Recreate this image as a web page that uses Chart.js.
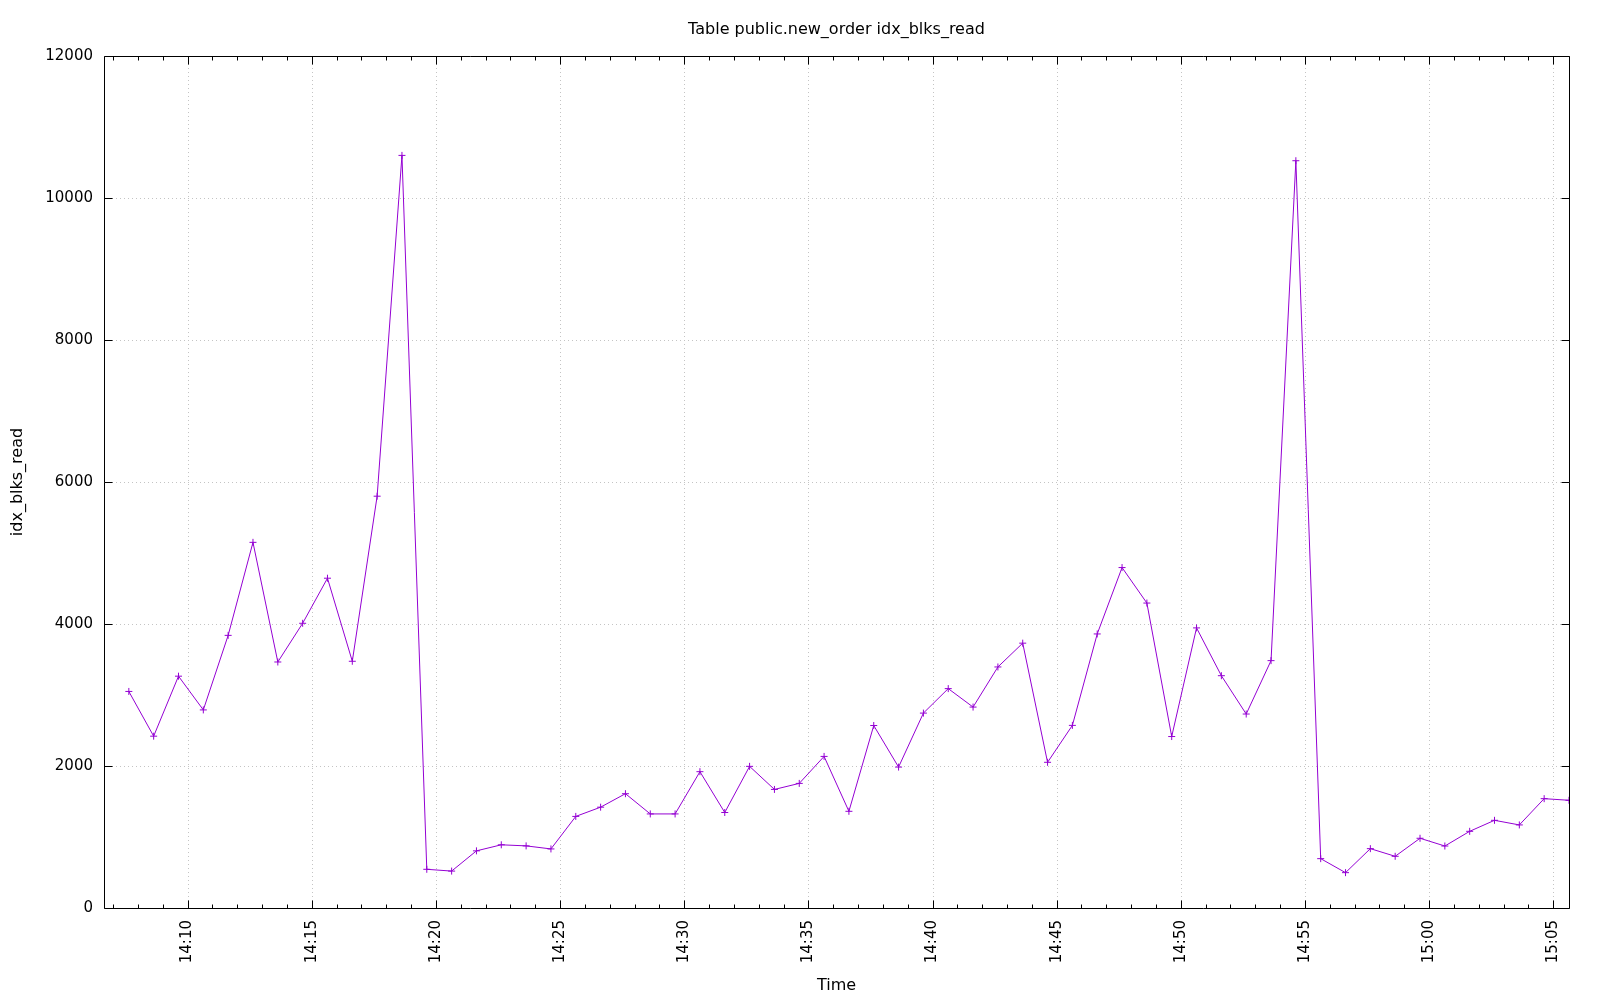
<!DOCTYPE html>
<html>
<head>
<meta charset="utf-8">
<script src="https://cdn.jsdelivr.net/npm/chart.js@4.4.1/dist/chart.umd.min.js"></script>
<style>
  html, body { margin: 0; padding: 0; background: #ffffff; }
  #wrap { width: 1600px; height: 1000px; }
</style>
</head>
<body>
<div id="wrap"><canvas id="c" width="1600" height="1000"></canvas></div>
<script>
// ---- data ----
const times = [
  '14:07:38','14:08:38','14:09:38','14:10:38','14:11:38','14:12:38','14:13:38','14:14:38','14:15:38','14:16:38',
  '14:17:38','14:18:38','14:19:38','14:20:38','14:21:38','14:22:38','14:23:38','14:24:38','14:25:38','14:26:38',
  '14:27:38','14:28:38','14:29:38','14:30:38','14:31:38','14:32:38','14:33:38','14:34:38','14:35:38','14:36:38',
  '14:37:38','14:38:38','14:39:38','14:40:38','14:41:38','14:42:38','14:43:38','14:44:38','14:45:38','14:46:38',
  '14:47:38','14:48:38','14:49:38','14:50:38','14:51:38','14:52:38','14:53:38','14:54:38','14:55:38','14:56:38',
  '14:57:38','14:58:38','14:59:38','15:00:38','15:01:38','15:02:38','15:03:38','15:04:38','15:05:38'
];
const idxBlksRead = [
  3050, 2420, 3265, 2790, 3840, 5150, 3465, 4010, 4645, 3475,
  5800, 10600, 545, 520, 805, 890, 875, 832, 1290, 1420,
  1610, 1325, 1325, 1920, 1345, 1995, 1670, 1755, 2135, 1362,
  2570, 1985, 2745, 3090, 2830, 3395, 3730, 2052, 2572, 3860,
  4795, 4295, 2415, 3945, 3272, 2732, 3484, 10525, 695, 498,
  836, 728, 982, 873, 1080, 1235, 1170, 1540, 1517
];
const xTickLabels = ['14:10','14:15','14:20','14:25','14:30','14:35','14:40','14:45','14:50','14:55','15:00','15:05'];
const xRangeStart = '14:06:38';
const xRangeEnd = '15:05:38';
const yTickValues = [0, 2000, 4000, 6000, 8000, 10000, 12000];
const chartTitle = 'Table public.new_order idx_blks_read';
const xTitle = 'Time';
const yTitle = 'idx_blks_read';

// ---- helpers ----
function toSec(t) {
  const p = t.split(':').map(Number);
  return p[0] * 3600 + p[1] * 60 + (p[2] || 0);
}
function fmt(sec) {
  const h = Math.floor(sec / 3600);
  const m = Math.floor((sec % 3600) / 60);
  return String(h).padStart(2, '0') + ':' + String(m).padStart(2, '0');
}

const points = times.map((t, i) => ({ x: toSec(t), y: idxBlksRead[i] }));
const FONT = 'DejaVu Sans';

// gnuplot-like frame: dotted grid behind, box and inward ticks on top
const framePlugin = {
  id: 'frame',
  beforeDatasetsDraw(chart) {
    const { ctx, chartArea: a, scales: { x, y } } = chart;
    ctx.save();
    ctx.strokeStyle = '#c4c4c4';
    ctx.lineWidth = 1;
    ctx.setLineDash([1, 3]);
    xTickLabels.forEach(l => {
      const px = Math.round(x.getPixelForValue(toSec(l))) + 0.5;
      ctx.beginPath(); ctx.moveTo(px, a.top); ctx.lineTo(px, a.bottom); ctx.stroke();
    });
    yTickValues.forEach(v => {
      if (v === 0 || v === 12000) return;
      const py = Math.round(y.getPixelForValue(v)) + 0.5;
      ctx.beginPath(); ctx.moveTo(a.left, py); ctx.lineTo(a.right, py); ctx.stroke();
    });
    ctx.restore();
  },
  afterDatasetsDraw(chart) {
    const { ctx, chartArea: a, scales: { x, y } } = chart;
    ctx.save();
    ctx.setLineDash([]);
    ctx.strokeStyle = '#000';
    ctx.lineWidth = 1;
    const L = Math.round(a.left) + 0.5, R = Math.round(a.right) + 0.5;
    const T = Math.round(a.top) + 0.5, B = Math.round(a.bottom) + 0.5;
    ctx.beginPath();
    ctx.rect(L, T, R - L, B - T);
    ctx.stroke();
    ctx.beginPath();
    // minor x ticks every minute, major at labels
    const majors = new Set(xTickLabels.map(toSec));
    const s0 = Math.ceil(x.min / 60) * 60;
    for (let s = s0; s <= x.max; s += 60) {
      const px = Math.round(x.getPixelForValue(s)) + 0.5;
      const len = majors.has(s) ? 8 : 4;
      ctx.moveTo(px, B); ctx.lineTo(px, B - len);
      ctx.moveTo(px, T); ctx.lineTo(px, T + len);
    }
    yTickValues.forEach(v => {
      const py = Math.round(y.getPixelForValue(v)) + 0.5;
      ctx.moveTo(L, py); ctx.lineTo(L + 8, py);
      ctx.moveTo(R, py); ctx.lineTo(R - 8, py);
    });
    ctx.stroke();
    ctx.restore();
  }
};

Chart.defaults.font.family = FONT;
Chart.defaults.font.size = 15;
Chart.defaults.color = '#000';

new Chart(document.getElementById('c'), {
  type: 'line',
  data: {
    datasets: [{
      label: yTitle,
      data: points,
      borderColor: '#9400d3',
      backgroundColor: '#9400d3',
      borderWidth: 1,
      pointStyle: 'cross',
      pointRadius: 3.5,
      pointBorderWidth: 1,
      pointBorderColor: '#9400d3',
      pointHoverRadius: 3.5,
      tension: 0,
      fill: false
    }]
  },
  options: {
    responsive: false,
    devicePixelRatio: 1,
    animation: false,
    events: [],
    layout: { padding: { left: 0, right: 31, top: 0, bottom: 0 } },
    plugins: {
      legend: { display: false },
      tooltip: { enabled: false },
      title: {
        display: true,
        text: chartTitle,
        fullSize: false,
        color: '#000',
        font: { family: FONT, size: 16, weight: 'normal', lineHeight: 1.2 },
        padding: { top: 20, bottom: 16.8 }
      }
    },
    scales: {
      x: {
        type: 'linear',
        min: toSec(xRangeStart),
        max: toSec(xRangeEnd),
        grid: { display: false, drawTicks: false },
        border: { display: false },
        afterBuildTicks(scale) {
          scale.ticks = xTickLabels.map(l => ({ value: toSec(l) }));
        },
        afterFit(scale) { scale.height = 92; },
        ticks: {
          autoSkip: false,
          minRotation: 90,
          maxRotation: 90,
          padding: 12,
          color: '#000',
          font: { family: FONT, size: 15 },
          callback: (v) => fmt(v)
        },
        title: {
          display: true,
          text: xTitle,
          color: '#000',
          font: { family: FONT, size: 16, lineHeight: 1.2 },
          padding: { top: 0, bottom: 4.4 }
        }
      },
      y: {
        type: 'linear',
        min: 0,
        max: 12000,
        grid: { display: false, drawTicks: false },
        border: { display: false },
        afterBuildTicks(scale) {
          scale.ticks = yTickValues.map(v => ({ value: v }));
        },
        afterFit(scale) { scale.width = 104; },
        ticks: {
          padding: 11,
          color: '#000',
          font: { family: FONT, size: 15 },
          callback: (v) => String(v)
        },
        title: {
          display: true,
          text: yTitle,
          color: '#000',
          font: { family: FONT, size: 16, lineHeight: 1.2 },
          padding: { top: 8.4, bottom: 0 }
        }
      }
    }
  },
  plugins: [framePlugin]
});
</script>
</body>
</html>
